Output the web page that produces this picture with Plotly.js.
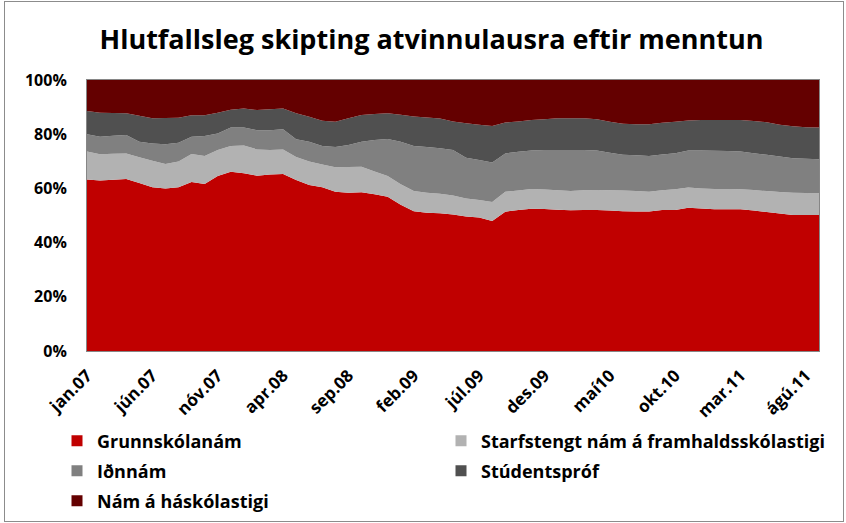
<!DOCTYPE html>
<html><head><meta charset="utf-8">
<script src="https://cdn.plot.ly/plotly-3.0.1.min.js"></script>
<style>
html,body{margin:0;padding:0;background:#fff;}
#chart{width:846px;height:523px;}
#frame{position:absolute;left:4px;top:1px;width:838px;height:519px;border:1px solid #8c8c8c;pointer-events:none;}
</style>
</head><body>
<div id="chart"></div><div id="frame"></div>
<script>
const months = [
 'jan.07','feb.07','mar.07','apr.07','maí07','jún.07','júl.07','ágú.07','sep.07','okt.07','nóv.07','des.07',
 'jan.08','feb.08','mar.08','apr.08','maí08','jún.08','júl.08','ágú.08','sep.08','okt.08','nóv.08','des.08',
 'jan.09','feb.09','mar.09','apr.09','maí09','jún.09','júl.09','ágú.09','sep.09','okt.09','nóv.09','des.09',
 'jan.10','feb.10','mar.10','apr.10','maí10','jún.10','júl.10','ágú.10','sep.10','okt.10','nóv.10','des.10',
 'jan.11','feb.11','mar.11','apr.11','maí11','jún.11','júl.11','ágú.11','sep.11'
];
const tickLabels = ['jan.07','jún.07','nóv.07','apr.08','sep.08','feb.09','júl.09','des.09','maí10','okt.10','mar.11','ágú.11'];
const yTickVals = [0, 20, 40, 60, 80, 100];
const yTickText = ['0%','20%','40%','60%','80%','100%'];

const seriesNames = ['Grunnskólanám','Starfstengt nám á framhaldsskólastigi','Iðnnám','Stúdentspróf','Nám á háskólastigi'];
const seriesColors = ['#C00000','#B2B2B2','#808080','#505050','#640000'];

const grunnskolanam = [63.3,62.9,63.2,63.5,62.0,60.4,60.0,60.4,62.4,61.6,64.6,66.1,
 65.6,64.7,65.1,65.3,63.1,61.3,60.4,58.8,58.4,58.6,57.8,56.9,
 54.0,51.6,51.0,50.8,50.4,49.6,49.3,48.0,51.4,52.0,52.5,52.4,
 52.1,51.9,52.0,52.0,51.8,51.6,51.5,51.5,52.0,52.0,52.9,52.6,
 52.3,52.3,52.3,51.8,51.3,50.7,50.2,50.2,50.2];
const starfstengt = [10.3,9.7,9.6,9.4,9.5,9.8,9.0,9.5,10.3,10.4,9.6,9.5,
 10.2,9.7,9.1,9.1,8.5,8.6,8.4,9.0,9.5,9.4,8.4,7.7,
 7.5,7.4,7.4,7.2,7.0,6.7,6.4,7.0,7.4,7.2,7.3,7.2,
 7.2,7.1,7.3,7.4,7.5,7.6,7.5,7.3,7.3,7.7,7.4,7.4,
 7.5,7.5,7.4,7.6,7.7,8.0,8.2,8.1,8.0];
const idnnam = [6.4,6.5,6.6,6.8,5.7,6.4,7.3,6.9,6.4,7.3,6.1,6.9,
 6.7,7.1,7.3,7.4,6.5,7.3,6.8,7.5,8.1,9.2,11.7,13.6,
 15.7,16.6,16.9,16.8,16.8,15.0,14.8,14.6,14.1,14.3,14.2,14.6,
 14.9,15.2,14.9,14.6,13.9,13.2,13.2,13.2,13.2,13.3,13.7,14.0,
 14.1,14.0,13.9,13.6,13.4,13.1,12.7,12.6,12.6];
const studentsprof = [8.6,8.8,8.4,8.0,9.6,9.3,9.7,9.3,7.9,7.7,7.6,6.5,
 7.0,7.4,7.7,7.7,9.6,9.2,9.4,9.3,9.9,9.9,9.6,9.5,
 10.0,10.9,10.9,11.0,10.5,12.7,13.0,13.4,11.4,11.2,11.2,11.3,
 11.7,11.7,11.7,11.5,11.4,11.5,11.5,11.7,11.7,11.6,11.1,11.2,
 11.3,11.4,11.6,11.9,12.0,11.7,11.8,11.7,11.7];
const haskolastig = [11.4,12.1,12.2,12.3,13.2,14.1,14.0,13.9,13.0,13.0,12.1,11.0,
 10.5,11.1,10.8,10.5,12.3,13.6,15.0,15.4,14.1,12.9,12.5,12.3,
 12.8,13.5,13.8,14.2,15.3,16.0,16.5,17.0,15.7,15.3,14.8,14.5,
 14.1,14.1,14.1,14.5,15.4,16.1,16.3,16.3,15.8,15.4,14.9,14.8,
 14.8,14.8,14.8,15.1,15.6,16.5,17.1,17.4,17.5];

const seriesValues = [grunnskolanam, starfstengt, idnnam, studentsprof, haskolastig];
const FONT = '"Open Sans", Lato, Roboto, Arial, sans-serif';

// legend slots: [legend id, x px of legend box, y px of row centre]
const legendSlots = [['legend', 57, 441], ['legend2', 441, 441], ['legend3', 57, 471], ['legend4', 441, 471], ['legend5', 57, 501]];

const traces = [];
seriesValues.forEach((vals, k) => {
  traces.push({
    type: 'scatter', mode: 'none', x: months, y: vals, name: seriesNames[k],
    stackgroup: 'one', groupnorm: 'percent', fillcolor: seriesColors[k],
    line: {width: 0}, showlegend: false, hoverinfo: 'x+y+name'
  });
});
seriesNames.forEach((n, k) => {
  traces.push({
    type: 'scatter', mode: 'markers', x: [null], y: [null], name: n,
    legend: legendSlots[k][0],
    marker: {symbol: 'square', size: 11, color: seriesColors[k]},
    showlegend: true, hoverinfo: 'skip'
  });
});

const layout = {
  width: 846, height: 523,
  margin: {l: 87, r: 27, t: 80, b: 172},
  paper_bgcolor: '#fff', plot_bgcolor: '#fff',
  font: {family: FONT, color: '#000', size: 15, weight: 700},
  title: {text: 'Hlutfallsleg skipting atvinnulausra eftir menntun',
    font: {family: FONT, size: 27, weight: 700, color: '#000'},
    x: 0.51, xanchor: 'center', y: 1 - 40/523, yanchor: 'middle'},
  xaxis: {type: 'category', range: [0, months.length - 1], automargin: false,
    tickvals: tickLabels, ticktext: tickLabels, tickangle: -45,
    showgrid: false, zeroline: false, showline: true, linecolor: '#868686', linewidth: 1, mirror: true,
    ticks: '', ticklabelstandoff: 7, tickfont: {family: FONT, size: 17, weight: 700}},
  yaxis: {range: [0, 100], automargin: false, tickmode: 'array', tickvals: yTickVals, ticktext: yTickText,
    showgrid: false, zeroline: false, showline: true, linecolor: '#868686', linewidth: 1, mirror: true,
    ticks: '', tickfont: {family: FONT, size: 16, weight: 700}, ticklabelstandoff: 16},
  showlegend: true
};
legendSlots.forEach(([id, xPx, yPx]) => {
  layout[id] = {orientation: 'h', xref: 'container', yref: 'container',
    x: xPx/846, xanchor: 'left', y: 1 - yPx/523, yanchor: 'middle',
    font: {family: FONT, size: 18, weight: 700, color: '#000'}, bgcolor: 'rgba(0,0,0,0)'};
});

Plotly.newPlot('chart', traces, layout, {displayModeBar: false, staticPlot: true});
</script>
</body></html>
